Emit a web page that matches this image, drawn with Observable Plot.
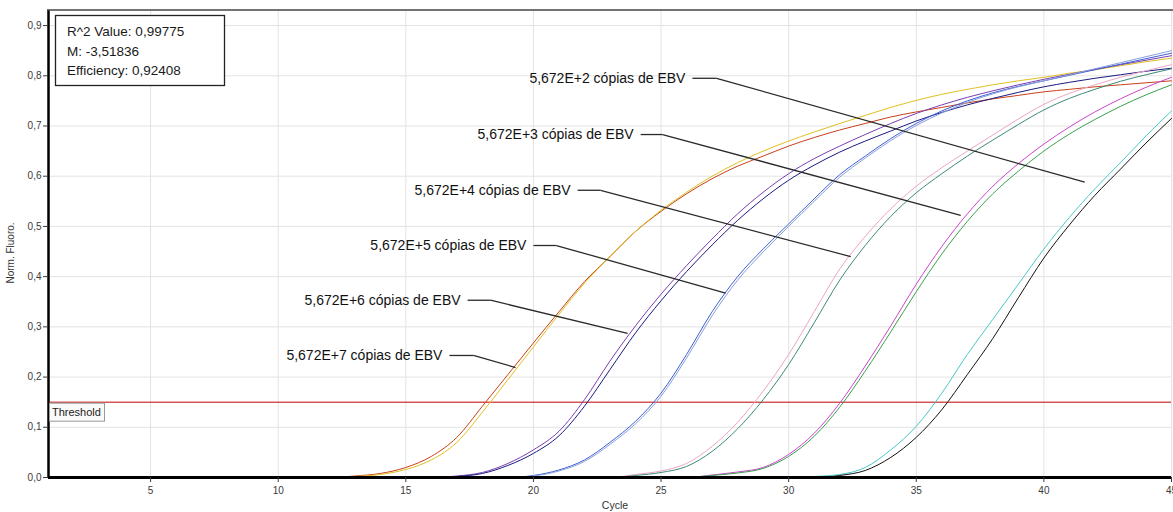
<!DOCTYPE html>
<html><head><meta charset="utf-8">
<script src="https://cdn.jsdelivr.net/npm/d3@7"></script>
<script src="https://cdn.jsdelivr.net/npm/@observablehq/plot@0.6"></script>
<style>
html,body{margin:0;padding:0;background:#fff;}
#chart{width:1173px;height:512px;overflow:hidden;position:relative;}
</style></head><body><div id="chart"></div>
<script>
// ---- data ----
const cycles = [1,2,3,4,5,6,7,8,9,10,11,12,13,14,15,16,17,18,19,20,21,22,23,24,25,26,27,28,29,30,31,32,33,34,35,36,37,38,39,40,41,42,43,44,45];
const xTicks = [5,10,15,20,25,30,35,40,45];
const yTicks = [0,0.1,0.2,0.3,0.4,0.5,0.6,0.7,0.8,0.9];
const thresholdValue = 0.15;

const seriesNames = ["E7a","E7b","E6a","E6b","E5a","E5b","E4a","E4b","E3a","E3b","E2a","E2b"];
const seriesColors = ["#c8401a","#e0c020","#7a3fb0","#1a1a80","#3f5fd8","#8aa0d8","#eaa6c6","#3d8a78","#cc44cc","#3aa050","#48c8c8","#111111"];

const e7a = [0,0,0,0,0,0,0,0,0,0,0,0,0.003,0.008,0.02,0.042,0.08,0.142,0.205,0.268,0.33,0.39,0.44,0.49,0.53,0.565,0.595,0.62,0.64,0.66,0.677,0.692,0.705,0.718,0.728,0.737,0.746,0.754,0.761,0.768,0.773,0.778,0.782,0.786,0.79];
const e7b = [0,0,0,0,0,0,0,0,0,0,0,0,0.002,0.006,0.016,0.035,0.07,0.13,0.195,0.26,0.325,0.387,0.44,0.49,0.532,0.568,0.6,0.627,0.65,0.67,0.688,0.705,0.721,0.737,0.751,0.763,0.773,0.782,0.79,0.797,0.805,0.812,0.82,0.828,0.835];
const e6a = [0,0,0,0,0,0,0,0,0,0,0,0,0,0,0,0,0.003,0.01,0.028,0.055,0.092,0.155,0.232,0.302,0.365,0.422,0.475,0.525,0.568,0.605,0.635,0.66,0.683,0.705,0.725,0.742,0.757,0.77,0.782,0.793,0.803,0.813,0.822,0.831,0.84];
const e6b = [0,0,0,0,0,0,0,0,0,0,0,0,0,0,0,0,0.002,0.008,0.024,0.048,0.083,0.142,0.215,0.288,0.352,0.41,0.463,0.512,0.555,0.592,0.622,0.648,0.67,0.69,0.71,0.727,0.742,0.755,0.767,0.778,0.787,0.795,0.802,0.809,0.815];
const e5a = [0,0,0,0,0,0,0,0,0,0,0,0,0,0,0,0,0,0,0,0.004,0.015,0.035,0.07,0.112,0.168,0.245,0.33,0.4,0.455,0.505,0.555,0.603,0.64,0.675,0.705,0.73,0.75,0.766,0.779,0.79,0.801,0.812,0.823,0.834,0.845];
const e5b = [0,0,0,0,0,0,0,0,0,0,0,0,0,0,0,0,0,0,0,0.003,0.013,0.032,0.066,0.107,0.162,0.238,0.322,0.393,0.449,0.5,0.55,0.598,0.636,0.671,0.701,0.726,0.747,0.764,0.778,0.79,0.802,0.814,0.826,0.838,0.85];
const e4a = [0,0,0,0,0,0,0,0,0,0,0,0,0,0,0,0,0,0,0,0,0,0,0,0.006,0.013,0.028,0.062,0.11,0.172,0.245,0.33,0.415,0.48,0.535,0.58,0.617,0.65,0.682,0.714,0.743,0.765,0.782,0.797,0.81,0.822];
const e4b = [0,0,0,0,0,0,0,0,0,0,0,0,0,0,0,0,0,0,0,0,0,0,0,0.004,0.01,0.022,0.052,0.097,0.155,0.225,0.308,0.393,0.462,0.52,0.567,0.605,0.64,0.672,0.703,0.732,0.755,0.773,0.789,0.802,0.814];
const e3a = [0,0,0,0,0,0,0,0,0,0,0,0,0,0,0,0,0,0,0,0,0,0,0,0,0,0,0.005,0.011,0.02,0.046,0.088,0.148,0.222,0.302,0.385,0.46,0.525,0.58,0.625,0.664,0.698,0.728,0.754,0.777,0.797];
const e3b = [0,0,0,0,0,0,0,0,0,0,0,0,0,0,0,0,0,0,0,0,0,0,0,0,0,0,0.004,0.009,0.018,0.042,0.082,0.14,0.212,0.29,0.37,0.445,0.51,0.565,0.61,0.65,0.684,0.713,0.739,0.762,0.782];
const e2a = [0,0,0,0,0,0,0,0,0,0,0,0,0,0,0,0,0,0,0,0,0,0,0,0,0,0,0,0,0,0,0.002,0.006,0.02,0.055,0.102,0.168,0.245,0.315,0.385,0.455,0.518,0.575,0.627,0.68,0.73];
const e2b = [0,0,0,0,0,0,0,0,0,0,0,0,0,0,0,0,0,0,0,0,0,0,0,0,0,0,0,0,0,0,0,0.004,0.014,0.04,0.08,0.135,0.205,0.277,0.358,0.437,0.503,0.562,0.614,0.666,0.715];
const seriesValues = [e7a,e7b,e6a,e6b,e5a,e5b,e4a,e4b,e3a,e3b,e2a,e2b];

const statsLines = ["R^2 Value: 0,99775","M: -3,51836","Efficiency: 0,92408"];

const annotLabels = ["5,672E+2 cópias de EBV","5,672E+3 cópias de EBV","5,672E+4 cópias de EBV","5,672E+5 cópias de EBV","5,672E+6 cópias de EBV","5,672E+7 cópias de EBV"];
const annotX  = [26.23, 24.2, 21.73, 20.0, 17.42, 16.71];
const annotY  = [0.795, 0.683, 0.572, 0.462, 0.353, 0.243];
const elbowX  = [27.18, 25.06, 22.63, 20.9, 18.32, 17.65];
const tipX    = [41.6, 36.74, 32.43, 27.53, 23.69, 19.3];
const tipY    = [0.588, 0.522, 0.44, 0.367, 0.287, 0.219];

// ---- build ----
const rows = [];
seriesValues.forEach((vals, i) => vals.forEach((v, j) => rows.push({cycle: cycles[j], value: v, series: seriesNames[i], color: seriesColors[i]})));
const annIdx = annotLabels.map((_, i) => i);
const fmt = d => d.toFixed(1).replace(".", ",");
const FONT = "'Liberation Sans', Arial, Helvetica, sans-serif";

const plot = Plot.plot({
  width: 1173, height: 512,
  marginLeft: 48, marginRight: 2, marginTop: 10, marginBottom: 35,
  style: {fontFamily: FONT, fontSize: "10px", background: "#fff", color: "#3a3a3a", overflow: "visible"},
  x: {domain: [1, 45]},
  y: {domain: [0, 0.93]},
  color: {type: "identity"},
  marks: [
    Plot.gridX(xTicks, {stroke: "#e3e3e3", strokeOpacity: 1}),
    Plot.gridY(yTicks, {stroke: "#e3e3e3", strokeOpacity: 1}),
    Plot.ruleY([thresholdValue], {stroke: "#c00000", strokeWidth: 1}),
    Plot.line(rows, {x: "cycle", y: "value", z: "series", stroke: "color", strokeWidth: 1, curve: "monotone-x"}),
    Plot.link(annIdx, {x1: i => annotX[i], y1: i => annotY[i], x2: i => elbowX[i], y2: i => annotY[i], stroke: "#2a2a2a", strokeWidth: 1.3}),
    Plot.link(annIdx, {x1: i => elbowX[i], y1: i => annotY[i], x2: i => tipX[i], y2: i => tipY[i], stroke: "#2a2a2a", strokeWidth: 1.3}),
    Plot.text(annIdx, {x: i => annotX[i], y: i => annotY[i], text: i => annotLabels[i], textAnchor: "end", dx: -7, fontSize: 14, fill: "#111"}),
    Plot.ruleY([0], {stroke: "#000", strokeWidth: 3}),
    Plot.ruleX([1], {stroke: "#000", strokeWidth: 2.5}),
    Plot.axisX(xTicks, {tickSize: 5, tickPadding: 4, tickFormat: d => String(d), label: null, fontSize: 10}),
    Plot.axisY(yTicks, {tickSize: 5, tickPadding: 2, tickFormat: fmt, label: null, fontSize: 10})
  ]
});
document.getElementById("chart").appendChild(plot);

// ---- overlays (layout) ----
const svg = d3.select(plot);
const ys = plot.scale("y");
// top frame
svg.append("line").attr("x1", 47).attr("x2", 1173).attr("y1", 10).attr("y2", 10)
  .attr("stroke", "#444").attr("stroke-width", 1.5);
// threshold label
const ty = ys.apply(thresholdValue);
const g = svg.append("g");
g.append("rect").attr("x", 49.5).attr("y", ty + 1.5).attr("width", 55).attr("height", 18)
  .attr("fill", "#fafafa").attr("stroke", "#9a9a9a").attr("stroke-width", 1);
g.append("text").attr("x", 52).attr("y", ty + 14.5).attr("text-anchor", "start").attr("font-family", FONT).attr("font-size", 11)
  .attr("fill", "#222").text("Threshold");
// stats box
const sb = svg.append("g");
sb.append("rect").attr("x", 55.5).attr("y", 15.5).attr("width", 169).attr("height", 70)
  .attr("fill", "#fff").attr("stroke", "#222").attr("stroke-width", 1.3);
statsLines.forEach((t, i) => sb.append("text").attr("x", 67).attr("y", 36 + i * 19.5).attr("text-anchor", "start")
  .attr("font-family", FONT).attr("font-size", 13.5).attr("fill", "#1a1a1a").text(t));
// axis titles
svg.append("text").attr("x", 615).attr("y", 509).attr("text-anchor", "middle")
  .attr("font-family", FONT).attr("font-size", 10.5).attr("fill", "#333").text("Cycle");
svg.append("text").attr("transform", "translate(14,253) rotate(-90)").attr("text-anchor", "middle")
  .attr("font-family", FONT).attr("font-size", 10).attr("fill", "#333").text("Norm. Fluoro.");
</script>
</body></html>
